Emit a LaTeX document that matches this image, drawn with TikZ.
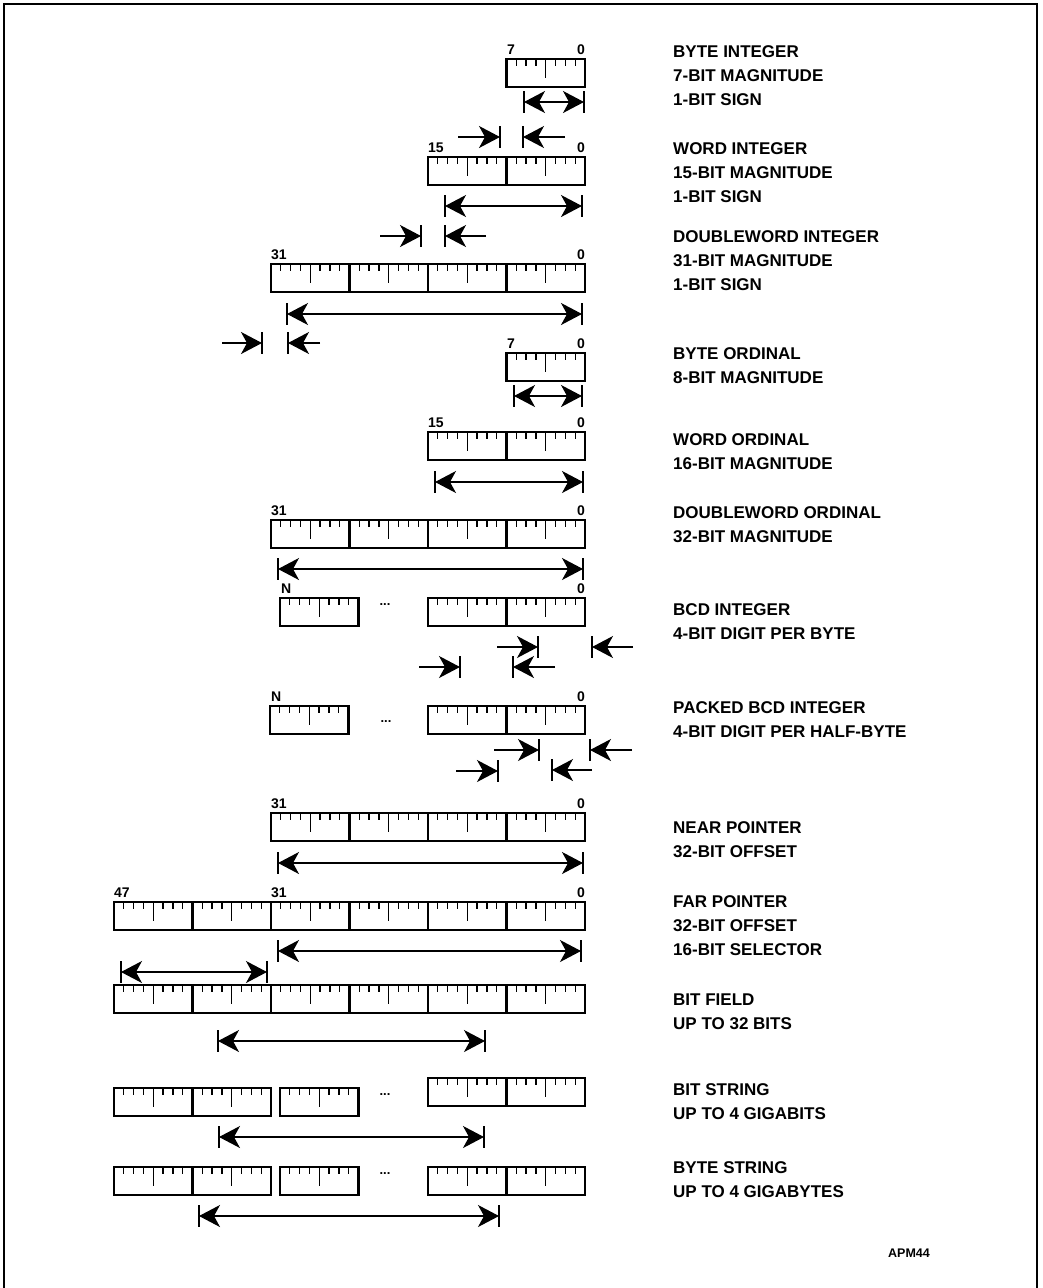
\documentclass[tikz,border=0pt]{standalone}
\usepackage{fontspec}
\setmainfont{Liberation Sans}
\usetikzlibrary{arrows.meta}
\tikzset{
  cellframe/.style={line width=2.5pt},
  tickline/.style={line width=1.3pt},
  dimline/.style={line width=1.2pt},
  dbl/.style={dimline, arrows={Stealth[length=21pt,width=22pt,inset=6pt]-Stealth[length=21pt,width=22pt,inset=6pt]}},
  sgl/.style={dimline, arrows={-Stealth[length=21pt,width=22pt,inset=6pt]}},
  bitnum/.style={font=\fontsize{14}{14}\selectfont\bfseries, inner sep=0pt},
  lbl/.style={font=\fontsize{17}{17}\selectfont\bfseries, anchor=base west, inner sep=0pt},
  dots/.style={font=\fontsize{13}{13}\selectfont\bfseries, anchor=base, inner sep=0pt},
  bytecell/.pic={
    \draw[cellframe] (0,0) rectangle (78.5,28);
    \foreach \k in {1,2,3,5,6,7} \draw[tickline] (\k*9.8125,0) -- (\k*9.8125,6.5);
    \draw[tickline] (39.25,0) -- (39.25,19);
  }
}
\newcommand\cells[3]{\foreach \j in {1,...,#3} \pic at ({#1+(\j-1)*78.5},#2) {bytecell};}
\newcommand\dimbar[1]{\draw[dimline] (#1) +(0,-11) -- +(0,11);}
\newcommand\twoway[4]{% name, xl, xr, y
  \coordinate (#1l) at (#2,#4); \coordinate (#1r) at (#3,#4);
  \draw[dbl] (#1l) -- (#1r); \dimbar{#1l}\dimbar{#1r}}
\newcommand\oneway[4]{% name, xfrom, xto(bar), y
  \coordinate (#1f) at (#2,#4); \coordinate (#1t) at (#3,#4);
  \draw[sgl] (#1f) -- (#1t); \dimbar{#1t}}
\begin{document}
\begin{tikzpicture}[x=1pt,y=-1pt]
\useasboundingbox (0,0) rectangle (1042,1288);
\draw[line width=2pt] (4,1292) -- (4,3.5) -- (1037,3.5) -- (1037,1292);

% 1 byte integer
\cells{506.5}{59}{1}
\node[bitnum,anchor=base west] (n1l) at (507,54) {7};
\node[bitnum,anchor=base east] (n1r) at (585,54) {0};
\twoway{a1}{524}{584}{102}
\oneway{s1}{458}{500}{137}
\oneway{s2}{565}{523}{137}

% 2 word integer
\cells{428}{157}{2}
\node[bitnum,anchor=base west] (n2l) at (428,152) {15};
\node[bitnum,anchor=base east] (n2r) at (585,152) {0};
\twoway{a2}{445}{582}{206}
\oneway{s3}{380}{421}{236}
\oneway{s4}{486}{445}{236}

% 3 doubleword integer
\cells{271}{264}{4}
\node[bitnum,anchor=base west] (n3l) at (271,259) {31};
\node[bitnum,anchor=base east] (n3r) at (585,259) {0};
\twoway{a3}{287}{582}{314}
\oneway{s5}{222}{262}{343}
\oneway{s6}{320}{288}{343}

% 4 byte ordinal
\cells{506.5}{353}{1}
\node[bitnum,anchor=base west] (n4l) at (507,348) {7};
\node[bitnum,anchor=base east] (n4r) at (585,348) {0};
\twoway{a4}{514}{582}{396}

% 5 word ordinal
\cells{428}{432}{2}
\node[bitnum,anchor=base west] (n5l) at (428,427) {15};
\node[bitnum,anchor=base east] (n5r) at (585,427) {0};
\twoway{a5}{435}{583}{482}

% 6 doubleword ordinal
\cells{271}{520}{4}
\node[bitnum,anchor=base west] (n6l) at (271,515) {31};
\node[bitnum,anchor=base east] (n6r) at (585,515) {0};
\twoway{a6}{278}{583}{569}

% 7 BCD integer
\cells{280}{598}{1}
\cells{428}{598}{2}
\node[dots] (d7) at (385,605) {...};
\node[bitnum,anchor=base west] (n7l) at (281,593) {N};
\node[bitnum,anchor=base east] (n7r) at (585,593) {0};
\oneway{s7}{497}{538}{647}
\oneway{s8}{633}{592}{647}
\oneway{s9}{419}{460}{667}
\oneway{s10}{555}{513}{667}

% 8 packed BCD integer
\cells{270}{706}{1}
\cells{428}{706}{2}
\node[dots] (d8) at (386,722) {...};
\node[bitnum,anchor=base west] (n8l) at (271,701) {N};
\node[bitnum,anchor=base east] (n8r) at (585,701) {0};
\oneway{s11}{494}{539}{750}
\oneway{s12}{632}{590}{750}
\oneway{s13}{456}{498}{771}
\oneway{s14}{592}{552}{770}

% 9 near pointer
\cells{271}{813}{4}
\node[bitnum,anchor=base west] (n9l) at (271,808) {31};
\node[bitnum,anchor=base east] (n9r) at (585,808) {0};
\twoway{a9}{278}{583}{863}

% 10 far pointer
\cells{114}{902}{6}
\node[bitnum,anchor=base west] (n10l) at (114,897) {47};
\node[bitnum,anchor=base west] (n10m) at (271,897) {31};
\node[bitnum,anchor=base east] (n10r) at (585,897) {0};
\twoway{a10}{278}{581}{951}
\twoway{a11}{121}{267}{972}

% 11 bit field
\cells{114}{985}{6}
\twoway{a12}{218}{485}{1041}

% 12 bit string
\cells{114}{1088}{2}
\cells{280}{1088}{1}
\node[dots] (d12) at (385,1095) {...};
\cells{428}{1078}{2}
\twoway{a13}{219}{484}{1137}

% 13 byte string
\cells{114}{1167}{2}
\cells{280}{1167}{1}
\node[dots] (d13) at (385,1174) {...};
\cells{428}{1167}{2}
\twoway{a14}{199}{499}{1216}

% labels
\node[lbl] (t1a) at (673,57) {BYTE INTEGER};
\node[lbl] (t1b) at (673,81) {7-BIT MAGNITUDE};
\node[lbl] (t1c) at (673,105) {1-BIT SIGN};
\node[lbl] (t2a) at (673,154) {WORD INTEGER};
\node[lbl] (t2b) at (673,178) {15-BIT MAGNITUDE};
\node[lbl] (t2c) at (673,202) {1-BIT SIGN};
\node[lbl] (t3a) at (673,242) {DOUBLEWORD INTEGER};
\node[lbl] (t3b) at (673,266) {31-BIT MAGNITUDE};
\node[lbl] (t3c) at (673,290) {1-BIT SIGN};
\node[lbl] (t4a) at (673,359) {BYTE ORDINAL};
\node[lbl] (t4b) at (673,383) {8-BIT MAGNITUDE};
\node[lbl] (t5a) at (673,445) {WORD ORDINAL};
\node[lbl] (t5b) at (673,469) {16-BIT MAGNITUDE};
\node[lbl] (t6a) at (673,518) {DOUBLEWORD ORDINAL};
\node[lbl] (t6b) at (673,542) {32-BIT MAGNITUDE};
\node[lbl] (t7a) at (673,615) {BCD INTEGER};
\node[lbl] (t7b) at (673,639) {4-BIT DIGIT PER BYTE};
\node[lbl] (t8a) at (673,713) {PACKED BCD INTEGER};
\node[lbl] (t8b) at (673,737) {4-BIT DIGIT PER HALF-BYTE};
\node[lbl] (t9a) at (673,833) {NEAR POINTER};
\node[lbl] (t9b) at (673,857) {32-BIT OFFSET};
\node[lbl] (t10a) at (673,907) {FAR POINTER};
\node[lbl] (t10b) at (673,931) {32-BIT OFFSET};
\node[lbl] (t10c) at (673,955) {16-BIT SELECTOR};
\node[lbl] (t11a) at (673,1005) {BIT FIELD};
\node[lbl] (t11b) at (673,1029) {UP TO 32 BITS};
\node[lbl] (t12a) at (673,1095) {BIT STRING};
\node[lbl] (t12b) at (673,1119) {UP TO 4 GIGABITS};
\node[lbl] (t13a) at (673,1173) {BYTE STRING};
\node[lbl] (t13b) at (673,1197) {UP TO 4 GIGABYTES};
\node[font=\fontsize{12.5}{12.5}\selectfont\bfseries, anchor=base west, inner sep=0pt] (apm) at (888,1257) {APM44};
\end{tikzpicture}
\end{document}
